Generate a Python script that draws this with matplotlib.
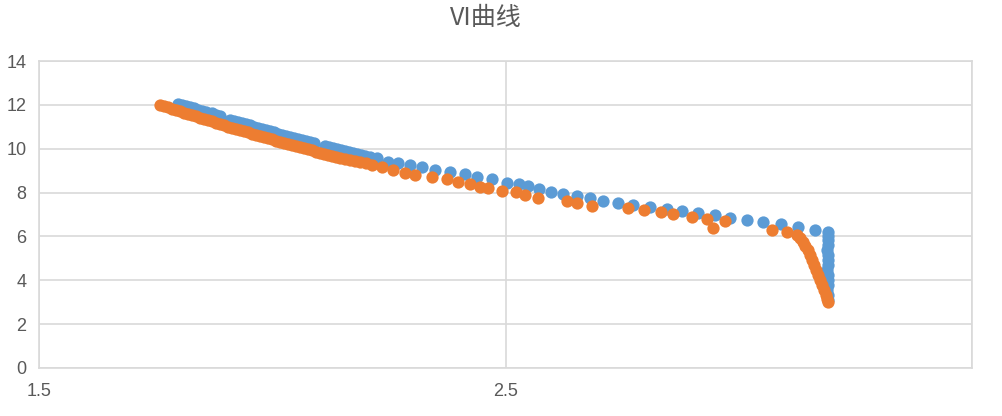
import matplotlib
matplotlib.use("Agg")
import matplotlib.pyplot as plt

title = "VI曲线"
x_ticks = [1.5, 2.5, 3.5]
x_tick_labels = ["1.5", "2.5", ""]
y_ticks = [0, 2, 4, 6, 8, 10, 12, 14]

blue_x = [
    1.798, 1.807, 1.815, 1.824, 1.832, 1.841, 1.849, 1.858,
    1.871, 1.879, 1.888,
    1.909, 1.918, 1.927, 1.935, 1.944, 1.952, 1.961, 1.969, 1.978, 1.987, 1.995,
    2.004, 2.012, 2.021, 2.029, 2.038, 2.047, 2.055, 2.064, 2.072, 2.081, 2.089,
    2.113, 2.122, 2.130, 2.139, 2.147, 2.156, 2.165, 2.173, 2.182, 2.190, 2.199, 2.210, 2.225,
    2.248, 2.270, 2.295, 2.321, 2.349, 2.381, 2.413, 2.439, 2.471,
    2.503, 2.529, 2.548, 2.572, 2.598, 2.623, 2.653, 2.681, 2.709, 2.741, 2.773, 2.810,
    2.846, 2.878, 2.913, 2.949, 2.981, 3.018, 3.052, 3.091, 3.127, 3.163, 3.191,
    3.191, 3.192, 3.191, 3.190, 3.191, 3.192, 3.191, 3.190, 3.191, 3.192, 3.191, 3.190, 3.191, 3.191,
]
blue_y = [
    12.04, 11.99, 11.95, 11.90, 11.86, 11.76, 11.72, 11.67,
    11.63, 11.54, 11.49,
    11.31, 11.26, 11.22, 11.17, 11.13, 11.08, 10.99, 10.94, 10.90, 10.85, 10.81,
    10.76, 10.67, 10.62, 10.58, 10.53, 10.49, 10.44, 10.40, 10.35, 10.31, 10.26,
    10.12, 10.08, 10.03, 9.99, 9.94, 9.90, 9.85, 9.80, 9.76, 9.71, 9.67, 9.62, 9.58,
    9.39, 9.35, 9.26, 9.17, 9.03, 8.94, 8.85, 8.71, 8.62,
    8.44, 8.39, 8.30, 8.16, 8.03, 7.93, 7.84, 7.75, 7.62, 7.52, 7.43, 7.34,
    7.25, 7.16, 7.07, 6.98, 6.84, 6.75, 6.66, 6.57, 6.43, 6.29, 6.20,
    6.02, 5.84, 5.61, 5.38, 5.15, 4.92, 4.70, 4.47, 4.24, 4.01, 3.78, 3.56, 3.33, 3.10,
]

orange_x = [
    1.759, 1.768, 1.777, 1.785, 1.794, 1.802, 1.811, 1.819, 1.828, 1.837,
    1.845, 1.854, 1.862, 1.871, 1.879, 1.888, 1.897, 1.905, 1.914, 1.922,
    1.931, 1.939, 1.948, 1.957, 1.965, 1.974, 1.982, 1.991, 1.999, 2.008,
    2.017, 2.025, 2.034, 2.042, 2.051, 2.059, 2.068, 2.077, 2.085, 2.094,
    2.102, 2.111, 2.120, 2.128, 2.137, 2.145, 2.156, 2.167, 2.177, 2.188,
    2.201, 2.214, 2.235, 2.259, 2.285, 2.306, 2.342, 2.375, 2.398, 2.424,
    2.445, 2.462, 2.492, 2.523, 2.542, 2.570, 2.632, 2.653, 2.685, 2.763,
    2.797, 2.833, 2.859, 2.900, 2.932, 2.945, 2.971, 3.071, 3.103, 3.125,
    3.131, 3.138, 3.142, 3.148, 3.153, 3.157, 3.161, 3.166, 3.170, 3.174,
    3.178, 3.183, 3.187, 3.189, 3.191,
]
orange_y = [
    11.99, 11.95, 11.90, 11.81, 11.76, 11.72, 11.63, 11.58, 11.54, 11.49,
    11.40, 11.35, 11.31, 11.26, 11.17, 11.13, 11.08, 10.99, 10.94, 10.90,
    10.85, 10.81, 10.76, 10.67, 10.62, 10.58, 10.53, 10.49, 10.44, 10.35,
    10.31, 10.26, 10.21, 10.17, 10.12, 10.08, 10.03, 9.99, 9.94, 9.85,
    9.80, 9.76, 9.71, 9.67, 9.62, 9.58, 9.53, 9.48, 9.44, 9.39,
    9.35, 9.26, 9.17, 9.03, 8.89, 8.80, 8.71, 8.62, 8.48, 8.39,
    8.25, 8.21, 8.07, 8.03, 7.89, 7.75, 7.62, 7.52, 7.39, 7.30,
    7.20, 7.11, 7.02, 6.89, 6.79, 6.38, 6.70, 6.29, 6.20, 6.06,
    5.93, 5.75, 5.56, 5.38, 5.15, 4.92, 4.70, 4.47, 4.24, 4.01,
    3.78, 3.56, 3.33, 3.15, 3.01,
]

blue = "#5B9BD5"
orange = "#ED7D31"
grid_c = "#D9D9D9"
text_c = "#595959"

plt.rcParams['font.family'] = ['Noto Sans CJK SC', 'DejaVu Sans']

fig = plt.figure(figsize=(10.02, 4.16), dpi=100)
ax = fig.add_axes([39 / 1002, 1 - 368 / 416, (972 - 39) / 1002, (368 - 61) / 416])

ax.scatter(blue_x, blue_y, s=78, color=blue, linewidths=0, zorder=3)
ax.scatter(orange_x, orange_y, s=78, color=orange, linewidths=0, zorder=4)

ax.set_xlim(1.5, 3.5)
ax.set_ylim(0, 14)
ax.set_xticks(x_ticks)
ax.set_xticklabels(x_tick_labels)
ax.set_yticks(y_ticks)
ax.grid(True, color=grid_c, linewidth=1.2, zorder=0)
ax.set_axisbelow(True)
for name, sp in ax.spines.items():
    sp.set_color(grid_c)
    sp.set_linewidth(1.2)
ax.tick_params(length=0, colors=text_c, labelsize=13)
ax.tick_params(axis='y', pad=9)
ax.tick_params(axis='x', pad=11)
for lab in ax.get_xticklabels() + ax.get_yticklabels():
    lab.set_fontfamily(['Liberation Sans', 'DejaVu Sans'])

fig.text(486 / 1002, 1 - 18 / 416, title, ha='center', va='center',
         fontsize=18, color=text_c, family=['Noto Sans CJK SC', 'DejaVu Sans'])

fig.savefig("out.png", dpi=100, facecolor="white")
